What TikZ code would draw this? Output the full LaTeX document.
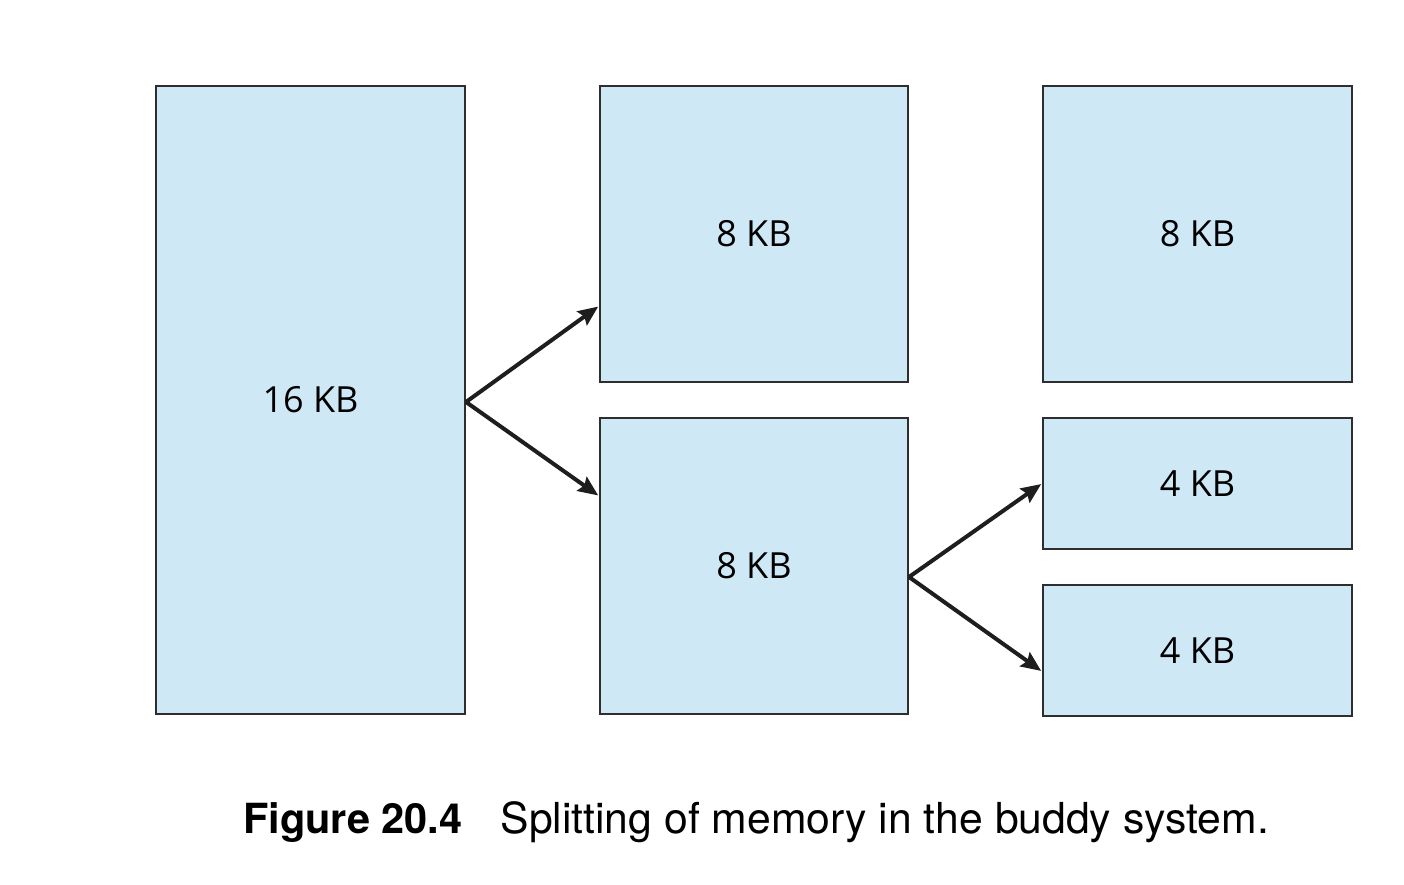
\documentclass[tikz,border=0pt]{standalone}
\usepackage{fontspec}
\setmainfont{Open Sans}
\newfontfamily\capfont{TeX Gyre Heros}
\usetikzlibrary{arrows.meta}
\definecolor{boxfill}{HTML}{CFE8F6}
\definecolor{boxline}{HTML}{2E2E2E}
\definecolor{arrowcol}{HTML}{1E1E1E}
\tikzset{
  membox/.style={draw=boxline, fill=boxfill, line width=2pt, inner sep=0pt,
    font=\fontsize{36}{40}\selectfont},
  split/.style={draw=arrowcol, line width=4pt,
    -{Stealth[length=20pt,width=17pt,inset=3pt]}, shorten >=1pt},
}
\begin{document}
\begin{tikzpicture}[x=1pt,y=-1pt]
\useasboundingbox (0,0) rectangle (1404,884);
\node[membox, minimum width=309pt, minimum height=628pt] (big) at (310.5,400) {16 KB};
\node[membox, minimum width=308pt, minimum height=296pt] (m1) at (754,234) {8 KB};
\node[membox, minimum width=308pt, minimum height=296pt] (m2) at (754,566) {8 KB};
\node[membox, minimum width=309pt, minimum height=296pt] (r1) at (1197.5,234) {8 KB};
\node[membox, minimum width=309pt, minimum height=131pt] (s1) at (1197.5,483.5) {4 KB};
\node[membox, minimum width=309pt, minimum height=131pt] (s2) at (1197.5,650.5) {4 KB};
\draw[split] ([yshift=-2pt]big.east) -- ([yshift=77pt]m1.south west);
\draw[split] ([yshift=-2pt]big.east) -- ([yshift=-79pt]m2.north west);
\draw[split] ([yshift=-11pt]m2.east) -- (s1.west);
\draw[split] ([yshift=-11pt]m2.east) -- ([yshift=-21pt]s2.west);
\node[anchor=base west, inner sep=0pt, font=\capfont] (cap) at (243,833)
  {{\fontsize{41.5}{48}\selectfont\bfseries Figure 20.4}\hspace{38pt}{\fontsize{42.7}{48}\selectfont Splitting of memory in the buddy system.}};
\end{tikzpicture}
\end{document}
